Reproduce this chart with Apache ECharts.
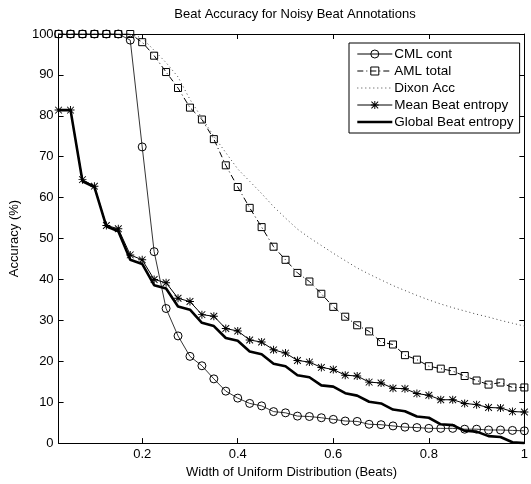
<!DOCTYPE html>
<html>
<head>
<meta charset="utf-8">
<script src="https://cdn.jsdelivr.net/npm/echarts@6/dist/echarts.min.js"></script>
<style>
html,body{margin:0;padding:0;background:#fff;}
#c{width:531px;height:484px;}
</style>
</head>
<body>
<div id="c"></div>
<script>
var widths = [0.025,0.05,0.075,0.1,0.125,0.15,0.175,0.2,0.225,0.25,0.275,0.3,0.325,0.35,0.375,0.4,0.425,0.45,0.475,0.5,
              0.525,0.55,0.575,0.6,0.625,0.65,0.675,0.7,0.725,0.75,0.775,0.8,0.825,0.85,0.875,0.9,0.925,0.95,0.975,1.0];
var cmlCont = [100,100,100,100,100,100,98.5,72.4,46.8,32.9,26.2,21.2,18.9,15.7,12.7,11.0,9.7,9.1,7.7,7.4,
               6.6,6.5,6.2,5.8,5.4,5.3,4.6,4.5,4.2,3.9,3.8,3.6,3.6,3.6,3.4,3.4,3.2,3.2,3.1,3.0];
var amlTotal = [100,100,100,100,100,100,100,98.0,94.7,90.7,86.8,82.0,79.1,74.3,67.9,62.6,57.5,52.8,48.0,44.8,
                41.6,39.5,36.5,33.3,30.9,28.8,27.3,24.7,24.1,21.5,20.4,18.8,18.2,17.6,16.4,15.3,14.3,14.8,13.6,13.6];
var dixonAcc = [100,100,100,100,100,100,100,99.0,96.0,93.0,89.5,84.0,79.5,75.0,71.0,67.0,64.0,61.0,57.8,55.0,
                52.3,50.2,48.3,46.4,44.6,42.8,41.3,39.9,38.5,37.3,36.1,35.0,34.0,33.1,32.3,31.5,30.8,30.0,29.3,28.6];
var meanBeatEntropy = [81.4,81.4,64.4,62.8,53.2,52.4,46.0,44.8,40.0,39.2,35.4,34.6,31.4,31.0,28.0,27.4,25.2,24.7,22.8,22.0,
                       20.2,19.8,18.5,18.0,16.6,16.4,14.9,14.7,13.4,13.3,12.1,11.7,10.6,10.6,9.7,9.4,8.7,8.6,7.7,7.6];
var globalBeatEntropy = [81.4,81.4,64.0,62.6,53.0,51.8,44.8,43.8,38.6,37.8,33.4,32.6,29.4,28.6,25.7,25.0,22.4,21.7,19.4,18.8,
                         16.6,16.1,14.1,13.8,12.2,11.6,10.1,9.7,8.2,7.8,6.5,6.2,4.6,4.4,3.0,2.8,1.7,1.5,0.2,0.0];
var xTicks = [0.2,0.4,0.6,0.8,1];
var seriesNames = ['CML cont','AML total','Dixon Acc','Mean Beat entropy','Global Beat entropy'];

function pairs(vals){ return widths.map(function(x,i){ return [x, vals[i]]; }); }

var asterisk = 'path://M0,4.4H10V5.6H0Z M4.4,0H5.6V10H4.4Z M1.2,0.4L9.6,8.8L8.8,9.6L0.4,1.2Z M8.8,0.4L9.6,1.2L1.2,9.6L0.4,8.8Z';
var FONT = 'Liberation Sans, Arial, Helvetica, sans-serif';
var hiddenSym = {color:'rgba(0,0,0,0)', borderColor:'rgba(0,0,0,0)', borderWidth:0, opacity:0};

var chart = echarts.init(document.getElementById('c'), null, {renderer:'canvas'});
var axisCommon = {
  axisLine:{show:true, onZero:false, lineStyle:{color:'#000', width:1}},
  axisTick:{show:true, inside:true, length:5, lineStyle:{color:'#000', width:1}},
  splitLine:{show:false}
};
chart.setOption({
  animation:false,
  backgroundColor:'#fff',
  title:{
    text:'Beat Accuracy for Noisy Beat Annotations',
    left:290, top:3, textAlign:'center',
    textStyle:{fontFamily:FONT, fontSize:13, fontWeight:'normal', color:'#000'}
  },
  grid:{left:56, right:1, top:34, bottom:33, containLabel:false},
  legend:{
    orient:'vertical', left:349, top:43,
    data:[
      {name:seriesNames[0], lineStyle:{width:1}},
      {name:seriesNames[1]},
      {name:seriesNames[2], itemStyle:hiddenSym},
      {name:seriesNames[3]},
      {name:seriesNames[4], itemStyle:hiddenSym}
    ],
    itemWidth:35, itemHeight:10, itemGap:3,
    padding:[4,6,4,7],
    lineStyle:{width:'inherit'},
    itemStyle:{borderWidth:'inherit'},
    backgroundColor:'#fff', borderColor:'#000', borderWidth:1, borderRadius:0,
    textStyle:{fontFamily:FONT, fontSize:13.5, color:'#000', padding:[0,0,0,-3]}
  },
  xAxis:[
    Object.assign({}, axisCommon, {
      type:'value', min:0.025, max:1, position:'bottom',
      name:'Width of Uniform Distribution (Beats)', nameLocation:'middle', nameGap:16,
      nameTextStyle:{fontFamily:FONT, fontSize:13, color:'#000'},
      axisTick:{show:true, inside:true, length:5, customValues:xTicks, lineStyle:{color:'#000'}},
      axisLabel:{show:true, customValues:xTicks, margin:5, fontFamily:FONT, fontSize:13, color:'#000',
        formatter:function(v){ return v >= 0.999 ? '1' : v.toFixed(1); }}
    }),
    Object.assign({}, axisCommon, {
      type:'value', min:0.025, max:1, position:'top',
      axisTick:{show:true, inside:true, length:5, customValues:xTicks, lineStyle:{color:'#000'}},
      axisLabel:{show:false}
    })
  ],
  yAxis:[
    Object.assign({}, axisCommon, {
      type:'value', min:0, max:100, interval:10, position:'left',
      name:'Accuracy (%)', nameLocation:'middle', nameGap:33, nameRotate:90,
      nameTextStyle:{fontFamily:FONT, fontSize:13, color:'#000'},
      axisLabel:{show:true, margin:5, fontFamily:FONT, fontSize:13, color:'#000'}
    }),
    Object.assign({}, axisCommon, {
      type:'value', min:0, max:100, interval:10, position:'right',
      axisLabel:{show:false}
    })
  ],
  series:[
    {name:seriesNames[0], type:'line', data:pairs(cmlCont), symbol:'circle', symbolSize:8,
     itemStyle:{color:'rgba(0,0,0,0)', borderColor:'#000', borderWidth:1},
     lineStyle:{color:'#000', width:0.8}, z:3},
    {name:seriesNames[1], type:'line', data:pairs(amlTotal), symbol:'rect', symbolSize:7,
     itemStyle:{color:'rgba(0,0,0,0)', borderColor:'#000', borderWidth:1},
     lineStyle:{color:'#000', width:1, type:[6,3,1,3]}, z:3},
    {name:seriesNames[2], type:'line', data:pairs(dixonAcc), symbol:'none', showSymbol:false,
     itemStyle:{color:'#444'},
     lineStyle:{color:'#444', width:1, type:[1,3]}, z:2},
    {name:seriesNames[3], type:'line', data:pairs(meanBeatEntropy), symbol:asterisk, symbolSize:8,
     itemStyle:{color:'#000'},
     lineStyle:{color:'#000', width:1}, z:4},
    {name:seriesNames[4], type:'line', data:pairs(globalBeatEntropy), symbol:'none', showSymbol:false,
     itemStyle:{color:'#000'},
     lineStyle:{color:'#000', width:2.6}, z:5}
  ]
});
</script>
</body>
</html>
